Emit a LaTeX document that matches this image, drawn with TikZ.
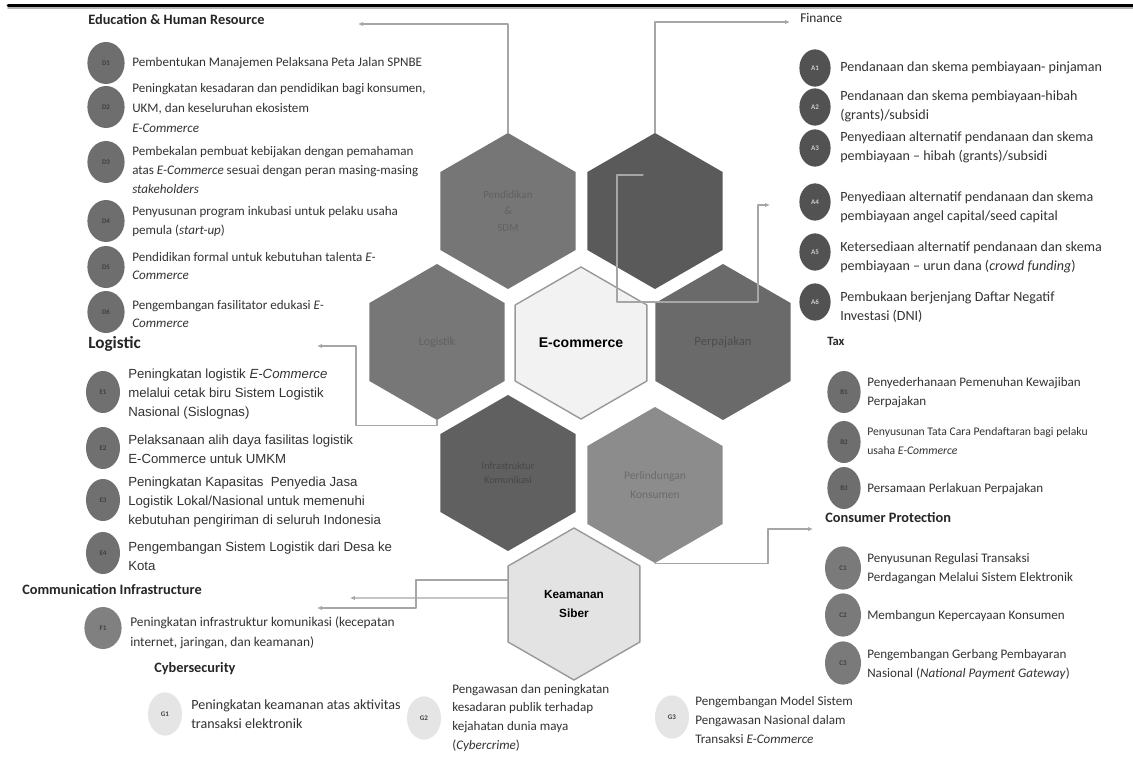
\documentclass[tikz,border=0pt]{standalone}
\usepackage{fontspec}
\setmainfont{Carlito}
\newfontfamily\arialfont{Liberation Sans}
\usetikzlibrary{arrows.meta,shapes.geometric}

\definecolor{hxedu}{HTML}{767676}
\definecolor{hxfin}{HTML}{5A5A5A}
\definecolor{hxlog}{HTML}{777777}
\definecolor{hxecom}{HTML}{F2F2F2}
\definecolor{hxpjk}{HTML}{6A6A6A}
\definecolor{hxinf}{HTML}{606060}
\definecolor{hxkon}{HTML}{8C8C8C}
\definecolor{hxcyb}{HTML}{E3E3E3}

\begin{document}
\begin{tikzpicture}[
			x=0.025cm, y=-0.025cm,
			line cap=round,
			line join=round,
			hexa/.style={regular polygon, regular polygon sides=6, shape border rotate=30,
				minimum size=3.9cm, inner sep=0pt, align=center},
			badge/.style={ellipse, inner sep=0pt, minimum width=0.9cm, minimum height=1.05cm,
				font=\fontsize{5}{5}\selectfont\bfseries, text=black!75},
			head/.style={anchor=west, inner sep=0pt, text=black!85,
				font=\fontsize{10.2}{12}\selectfont\bfseries},
			item/.style={anchor=west, align=left, inner sep=0pt, text=black!80,
				font=\fontsize{9.3}{13.5}\selectfont},
			conn/.style={draw=black!35, line width=0.8pt, -{Latex[length=3.5pt,width=3pt]}}
			]
			\useasboundingbox (0,0) rectangle (1133,762);
			\fill[white] (0,0) rectangle (1133,762);
			
			% Rule at the top
			\draw[black!30, line width=1.2pt] (8,8) -- (1133,8);
			\draw[line width=1.8pt] (8,5.5) -- (1133,5.5);
			
			% Honeycomb
			\node[hexa, fill=hxedu, text=black!62, font=\fontsize{7.8}{11.7}\selectfont] (edu) at (508,211) {Pendidikan\\\&\\SDM};
			\node[hexa, fill=hxfin] (fin) at (655,211) {};
			\node[hexa, fill=hxlog, text=black!62, font=\fontsize{8.5}{10}\selectfont] (log) at (437,342) {Logistik};
			\node[hexa, fill=hxecom, draw=black!40, line width=1pt, minimum size=3.8cm,
				font=\arialfont\bfseries\fontsize{10}{12}\selectfont] (ecom) at (581,343) {E-commerce};
			\node[hexa, fill=hxpjk, text=black!70, font=\fontsize{9}{11}\selectfont] (pjk) at (723,342) {Perpajakan};
			\node[hexa, fill=hxinf, text=black!72, font=\fontsize{7.3}{10.6}\selectfont] (inf) at (508,473) {Infrastruktur\\Komunikasi};
			\node[hexa, fill=hxkon, text=black!58, font=\fontsize{8.2}{13.5}\selectfont] (kon) at (655,485) {Perlindungan\\Konsumen};
			\node[hexa, fill=hxcyb, draw=black!40, line width=1pt, minimum size=3.8cm,
				font=\arialfont\bfseries\fontsize{8.4}{14}\selectfont] (cyb) at (574,604) {Keamanan\\Siber};
			
			% Connectors to the lists
			\coordinate (eduend) at (358,24);
			\coordinate (finend) at (790,22);
			\coordinate (logend) at (317,346);
			\coordinate (pjkstart) at (643,175);
			\coordinate (pjkend) at (770,205);
			\coordinate (konend) at (813,529);
			\coordinate (cybendA) at (317,608);
			\coordinate (cybendB) at (350,598);
			\draw[conn] (edu.north) |- (eduend);
			\draw[conn] (fin.north) |- (finend);
			\draw[conn] (log.south) -- ++(0,5) -| (356,346) -- (logend);
			\draw[conn] (pjkstart) -- (617,175) -- (617,302) -- (758,302) |- (pjkend);
			\draw[conn] (kon.south) -| (768,529) -- (konend);
			\draw[conn] ([yshift=0.6cm]cyb.west) -| (416,608) -- (cybendA);
			\draw[conn] ([yshift=0.15cm]cyb.west) -- (cybendB);
			
			% Education & Human Resource
			\node[head] (eduh) at (88,20) {Education \& Human Resource};
			\foreach \n/\yy in {1/63,2/107,3/162,4/221,5/267,6/312}
			\node[badge, fill=black!57, minimum width=0.93cm] (d\n) at (106,\yy) {D\n};
			\node[item] (d1t) at (132,63) {Pembentukan Manajemen Pelaksana Peta Jalan SPNBE};
			\node[item, font=\fontsize{9.3}{14}\selectfont] (d2t) at (132,108) {Peningkatan kesadaran dan pendidikan bagi konsumen,\\UKM, dan keseluruhan ekosistem\\\textit{E-Commerce}};
			\node[item] (d3t) at (132,170) {Pembekalan pembuat kebijakan dengan pemahaman\\atas \textit{E-Commerce} sesuai dengan peran masing-masing\\\textit{stakeholders}};
			\node[item] (d4t) at (132,222) {Penyusunan program inkubasi untuk pelaku usaha\\pemula (\textit{start-up})};
			\node[item] (d5t) at (132,266) {Pendidikan formal untuk kebutuhan talenta \textit{E-}\\\textit{Commerce}};
			\node[item] (d6t) at (132,314) {Pengembangan fasilitator edukasi \textit{E-}\\\textit{Commerce}};
			
			% Finance
			\node[head, font=\fontsize{9.5}{11}\selectfont] (finh) at (800,18) {Finance};
			\foreach \n/\yy in {1/68,2/107,3/148,4/202,5/252,6/302}
			\node[badge, fill=black!68, text=white!80!black, minimum width=0.78cm, minimum height=0.93cm] (a\n) at (815,\yy) {A\n};
			\node[item, font=\fontsize{10}{13.5}\selectfont] (a1t) at (840,68) {Pendanaan dan skema pembiayaan- pinjaman};
			\node[item, font=\fontsize{10}{13.5}\selectfont] (a2t) at (840,106) {Pendanaan dan skema pembiayaan-hibah\\(grants)/subsidi};
			\node[item, font=\fontsize{10}{13.5}\selectfont] (a3t) at (840,147.5) {Penyediaan alternatif pendanaan dan skema\\pembiayaan -- hibah (grants)/subsidi};
			\node[item, font=\fontsize{10}{13.5}\selectfont] (a4t) at (840,207) {Penyediaan alternatif pendanaan dan skema\\pembiayaan angel capital/seed capital};
			\node[item, font=\fontsize{10}{13.5}\selectfont] (a5t) at (840,257.5) {Ketersediaan alternatif pendanaan dan skema\\pembiayaan -- urun dana (\textit{crowd funding})};
			\node[item, font=\fontsize{10}{13.5}\selectfont] (a6t) at (840,307.5) {Pembukaan berjenjang Daftar Negatif\\Investasi (DNI)};
			
			% Tax
			\node[head, font=\fontsize{9}{11}\selectfont\bfseries] (taxh) at (827,341) {Tax};
			\foreach \n/\yy in {1/392,2/442,3/488}
			\node[badge, fill=black!57, minimum width=0.83cm] (b\n) at (844,\yy) {B\n};
			\node[item] (b1t) at (867,392.5) {Penyederhanaan Pemenuhan Kewajiban\\Perpajakan};
			\node[item, font=\fontsize{8.3}{13}\selectfont] (b2t) at (867,441) {Penyusunan Tata Cara Pendaftaran bagi pelaku\\usaha \textit{E-Commerce}};
			\node[item] (b3t) at (867,489) {Persamaan Perlakuan Perpajakan};
			
			% Consumer Protection
			\node[head] (konh) at (825,518) {Consumer Protection};
			\foreach \n/\yy in {1/568,2/615,3/663}
			\node[badge, fill=black!52, minimum height=1.08cm] (c\n) at (843,\yy) {C\n};
			\node[item] (c1t) at (867,569) {Penyusunan Regulasi Transaksi\\Perdagangan Melalui Sistem Elektronik};
			\node[item] (c2t) at (867,616) {Membangun Kepercayaan Konsumen};
			\node[item] (c3t) at (867,664.5) {Pengembangan Gerbang Pembayaran\\Nasional (\textit{National Payment Gateway})};
			
			% Logistic
			\node[head, font=\fontsize{12.2}{14}\selectfont\bfseries] (logh) at (88,344) {Logistic};
			\foreach \n/\yy in {1/392,2/448,3/500,4/553}
			\node[badge, fill=black!56, minimum width=0.85cm] (e\n) at (103,\yy) {E\n};
			\node[item, font=\arialfont\fontsize{9.4}{13.5}\selectfont] (e1t) at (128,394) {Peningkatan logistik \textit{E-Commerce}\\melalui cetak biru Sistem Logistik\\Nasional (Sislognas)};
			\node[item, font=\arialfont\fontsize{9.4}{13.5}\selectfont] (e2t) at (128,449) {Pelaksanaan alih daya fasilitas logistik\\E-Commerce untuk UMKM};
			\node[item, font=\arialfont\fontsize{9.4}{13.5}\selectfont] (e3t) at (128,502.5) {Peningkatan Kapasitas\ \ Penyedia Jasa\\Logistik Lokal/Nasional untuk memenuhi\\kebutuhan pengiriman di seluruh Indonesia};
			\node[item, font=\arialfont\fontsize{9.4}{13.5}\selectfont] (e4t) at (128,556) {Pengembangan Sistem Logistik dari Desa ke\\Kota};
			
			% Communication Infrastructure
			\node[head] (comh) at (22,590) {Communication Infrastructure};
			\node[badge, fill=black!50, minimum width=0.93cm] (f1) at (103,628) {F1};
			\node[item, font=\fontsize{9.5}{14.5}\selectfont] (f1t) at (130,633) {Peningkatan infrastruktur komunikasi (kecepatan\\internet, jaringan, dan keamanan)};
			
			% Cybersecurity
			\node[head] (cybh) at (154,669) {Cybersecurity};
			\node[badge, fill=black!10, minimum width=0.85cm, minimum height=1.08cm] (g1) at (165,714) {G1};
			\node[badge, fill=black!10, minimum width=0.85cm, minimum height=1.08cm] (g2) at (424,718) {G2};
			\node[badge, fill=black!10, minimum width=0.85cm, minimum height=1.08cm] (g3) at (672,717) {G3};
			\node[item, font=\fontsize{10}{13.5}\selectfont] (g1t) at (191,714) {Peningkatan keamanan atas aktivitas\\transaksi elektronik};
			\node[item] (g2t) at (452,718) {Pengawasan dan peningkatan\\kesadaran publik terhadap\\kejahatan dunia maya\\(\textit{Cybercrime})};
			\node[item] (g3t) at (695,720) {Pengembangan Model Sistem\\Pengawasan Nasional dalam\\Transaksi \textit{E-Commerce}};
		\end{tikzpicture}
\end{document}
